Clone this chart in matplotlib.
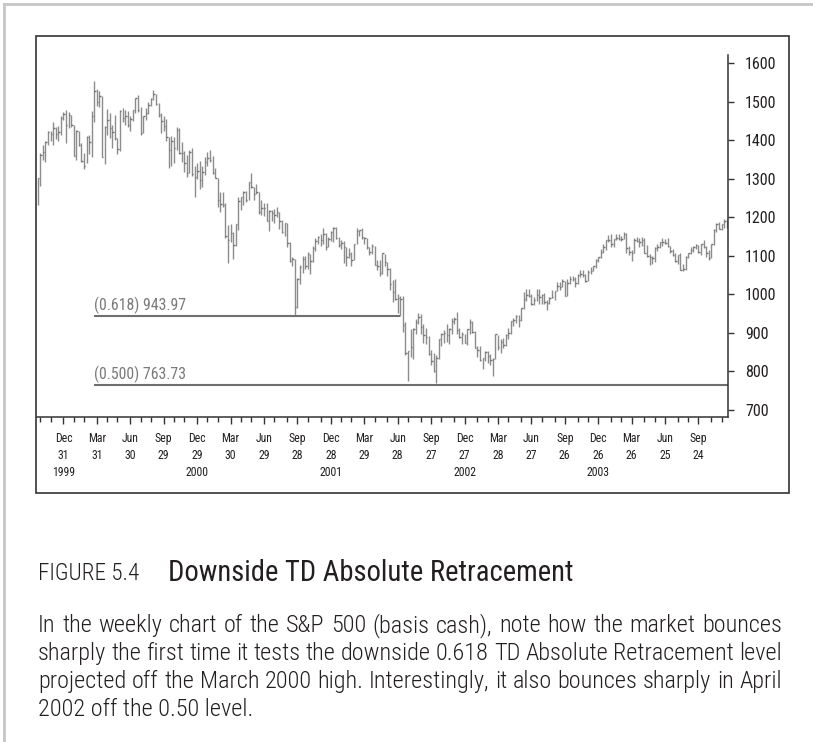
"""
Weekly S&P 500 bar chart with downside TD Absolute Retracement levels
"""
import pandas as pd
import matplotlib
matplotlib.use('Agg')
import matplotlib.pyplot as plt
import matplotlib.dates as mdates
from matplotlib import font_manager
from matplotlib.lines import Line2D
from matplotlib.patches import Rectangle

W, H = 813, 742

# weekly bars (Friday dates), first one is the week ending 22 Oct 1999
first_friday = '1999-10-22'

weekly_high = [
    1303, 1367, 1387, 1397, 1424, 1424, 1447, 1434, 1438, 1463, 1473,
    1478, 1473, 1465, 1441, 1428, 1424, 1394, 1367, 1410, 1414, 1477, 1553, 1534,
    1527, 1516, 1436, 1482, 1470, 1439, 1467, 1407, 1478, 1483, 1480, 1477, 1462,
    1480, 1510, 1517, 1486, 1463, 1484, 1499, 1511, 1530, 1521, 1498, 1471, 1463,
    1455, 1409, 1410, 1409, 1434, 1433, 1395, 1372, 1363, 1376, 1380, 1334, 1340,
    1347, 1333, 1357, 1370, 1376, 1358, 1327, 1302, 1266, 1267, 1237, 1180, 1183,
    1163, 1184, 1253, 1254, 1268, 1269, 1292, 1316, 1278, 1287, 1265, 1244, 1236,
    1237, 1219, 1219, 1222, 1226, 1215, 1192, 1185, 1185, 1135, 1096, 1092, 1042,
    1076, 1100, 1099, 1110, 1104, 1125, 1146, 1152, 1157, 1173, 1160, 1150, 1165,
    1176, 1174, 1148, 1140, 1139, 1123, 1121, 1110, 1132, 1173, 1168, 1173, 1150,
    1147, 1122, 1131, 1126, 1090, 1088, 1107, 1106, 1085, 1068, 1037, 1040, 1000,
    995, 997, 928, 853, 911, 914, 935, 951, 949, 924, 912, 891, 856,
    847, 843, 885, 900, 907, 924, 912, 938, 941, 954, 913, 903, 898,
    911, 935, 932, 906, 867, 865, 835, 852, 852, 846, 834, 896, 895,
    885, 887, 896, 912, 931, 939, 947, 946, 965, 1007, 1015, 1015, 1002,
    994, 1015, 1015, 1001, 1004, 985, 993, 1011, 1009, 1032, 1033, 1040, 1036,
    1040, 1049, 1049, 1046, 1054, 1063, 1063, 1052, 1064, 1071, 1075, 1091, 1096,
    1118, 1131, 1140, 1155, 1156, 1143, 1158, 1158, 1152, 1163, 1159, 1125, 1116,
    1147, 1149, 1147, 1150, 1146, 1127, 1105, 1099, 1123, 1130, 1137, 1147, 1145,
    1146, 1125, 1119, 1108, 1103, 1108, 1079, 1100, 1108, 1123, 1125, 1130, 1129,
    1132, 1142, 1125, 1115, 1131, 1170, 1185, 1188, 1183, 1197, 1197,
]
weekly_low = [
    1233, 1281, 1350, 1343, 1387, 1399, 1387, 1403, 1397, 1414, 1454,
    1392, 1431, 1434, 1360, 1350, 1386, 1345, 1325, 1340, 1365, 1356, 1448, 1490,
    1486, 1356, 1339, 1415, 1407, 1380, 1401, 1364, 1373, 1447, 1439, 1434, 1423,
    1449, 1471, 1473, 1413, 1419, 1452, 1469, 1488, 1505, 1491, 1461, 1420, 1423,
    1398, 1328, 1334, 1340, 1376, 1365, 1344, 1319, 1305, 1315, 1307, 1254, 1300,
    1274, 1280, 1310, 1333, 1345, 1312, 1301, 1228, 1215, 1227, 1147, 1081, 1137,
    1091, 1126, 1168, 1219, 1232, 1240, 1244, 1275, 1245, 1260, 1208, 1206, 1204,
    1190, 1165, 1191, 1185, 1200, 1169, 1160, 1152, 1124, 1085, 1073, 945, 965,
    1026, 1056, 1067, 1065, 1054, 1083, 1112, 1130, 1125, 1130, 1114, 1123, 1138,
    1136, 1145, 1124, 1117, 1081, 1074, 1094, 1074, 1089, 1130, 1151, 1145, 1132,
    1119, 1102, 1105, 1076, 1063, 1048, 1053, 1074, 1048, 1012, 981, 985, 952,
    943, 903, 842, 776, 837, 833, 896, 922, 898, 873, 871, 843, 817,
    798, 769, 831, 866, 873, 877, 872, 898, 922, 898, 888, 870, 873,
    869, 897, 900, 860, 837, 827, 806, 827, 822, 816, 789, 833, 856,
    847, 860, 865, 884, 898, 919, 926, 916, 931, 963, 984, 992, 973,
    972, 983, 975, 975, 974, 960, 974, 990, 986, 1008, 1011, 1018, 996,
    995, 1028, 1036, 1018, 1028, 1045, 1045, 1031, 1035, 1053, 1060, 1068, 1083,
    1094, 1108, 1115, 1136, 1122, 1124, 1141, 1141, 1138, 1143, 1107, 1103, 1087,
    1108, 1136, 1122, 1126, 1107, 1098, 1076, 1080, 1085, 1113, 1120, 1125, 1130,
    1124, 1107, 1100, 1083, 1078, 1063, 1060, 1064, 1094, 1104, 1111, 1119, 1108,
    1101, 1121, 1098, 1090, 1094, 1128, 1162, 1169, 1167, 1172, 1173,
]
weekly_close = [
    1302, 1363, 1370, 1396, 1422, 1417, 1433, 1417, 1421, 1458, 1469,
    1441, 1465, 1441, 1360, 1424, 1387, 1346, 1333, 1409, 1395, 1464, 1527, 1499,
    1516, 1357, 1434, 1452, 1433, 1421, 1407, 1378, 1477, 1457, 1464, 1441, 1455,
    1479, 1509, 1480, 1420, 1463, 1472, 1492, 1506, 1521, 1494, 1466, 1449, 1436,
    1409, 1374, 1397, 1380, 1427, 1366, 1368, 1342, 1315, 1370, 1312, 1306, 1320,
    1298, 1319, 1343, 1355, 1350, 1315, 1302, 1246, 1234, 1233, 1151, 1140, 1160,
    1128, 1184, 1243, 1253, 1267, 1246, 1292, 1278, 1261, 1265, 1214, 1225, 1224,
    1191, 1216, 1211, 1206, 1214, 1190, 1162, 1185, 1134, 1086, 1093, 966, 1041,
    1071, 1092, 1074, 1105, 1087, 1120, 1139, 1150, 1140, 1158, 1123, 1145, 1161,
    1173, 1146, 1128, 1133, 1122, 1096, 1104, 1090, 1132, 1164, 1166, 1149, 1147,
    1123, 1111, 1125, 1076, 1073, 1055, 1107, 1084, 1067, 1028, 1007, 989, 990,
    989, 921, 848, 853, 864, 909, 929, 941, 916, 894, 890, 845, 827,
    801, 835, 884, 898, 901, 895, 910, 931, 936, 907, 890, 896, 875,
    909, 928, 902, 861, 856, 830, 835, 851, 841, 829, 833, 896, 864,
    877, 868, 894, 899, 930, 933, 944, 933, 964, 988, 999, 996, 976,
    986, 998, 993, 999, 980, 978, 991, 993, 1008, 1021, 1019, 1036, 997,
    1030, 1039, 1039, 1029, 1051, 1053, 1050, 1035, 1058, 1062, 1074, 1089, 1096,
    1109, 1122, 1140, 1142, 1131, 1143, 1146, 1144, 1145, 1157, 1121, 1110, 1108,
    1142, 1139, 1135, 1141, 1107, 1099, 1096, 1094, 1121, 1123, 1137, 1135, 1134,
    1125, 1113, 1101, 1086, 1102, 1064, 1065, 1098, 1108, 1114, 1124, 1129, 1110,
    1132, 1122, 1108, 1095, 1130, 1166, 1184, 1170, 1183, 1191, 1188,
]

level_text = ['(0.618) 943.97', '(0.500) 763.73']
level_value = [943.97, 763.73]
level_from = ['2000-03-24', '2000-03-24']
level_to = ['2002-07-05', '2004-12-12']

x_start, x_end = '1999-10-20', '2004-12-12'

tick_dates = ['1999-12-31', '2000-03-31', '2000-06-30', '2000-09-29',
              '2000-12-29', '2001-03-30', '2001-06-29', '2001-09-28',
              '2001-12-28', '2002-03-29', '2002-06-28', '2002-09-27',
              '2002-12-27', '2003-03-28', '2003-06-27', '2003-09-26',
              '2003-12-26', '2004-03-26', '2004-06-25', '2004-09-24']
tick_labels = ['Dec\n31\n1999', 'Mar\n31', 'Jun\n30', 'Sep\n29',
               'Dec\n29\n2000', 'Mar\n30', 'Jun\n29', 'Sep\n28',
               'Dec\n28\n2001', 'Mar\n29', 'Jun\n28', 'Sep\n27',
               'Dec\n27\n2002', 'Mar\n28', 'Jun\n27', 'Sep\n26',
               'Dec\n26\n2003', 'Mar\n26', 'Jun\n25', 'Sep\n24']
price_ticks = [700, 800, 900, 1000, 1100, 1200, 1300, 1400, 1500, 1600]

caption_number = 'FIGURE 5.4'
caption_title = 'Downside TD Absolute Retracement'
caption_lines = [
    'In the weekly chart of the S&P 500 (basis cash), note how the market bounces',
    'sharply the first time it tests the downside 0.618 TD Absolute Retracement level',
    'projected off the March 2000 high. Interestingly, it also bounces sharply in April',
    '2002 off the 0.50 level.',
]

INK = '#231f20'


def fx(px):
    return px / W


def fy(py):
    return 1 - py / H


def pick_font():
    names = {f.name for f in font_manager.fontManager.ttflist}
    for cand in ('Liberation Sans Narrow', 'Arial Narrow', 'Roboto Condensed',
                 'Open Sans Condensed', 'Roboto', 'Liberation Sans'):
        if cand in names:
            return cand
    return 'DejaVu Sans'


def fit_size(fig, renderer, s, width, size=12, **kw):
    # font size that makes s exactly `width` pixels wide
    t = fig.text(0, 0, s, fontsize=size, **kw)
    w = t.get_window_extent(renderer).width
    t.remove()
    return size * width / w


def justified_line(fig, renderer, line, x0, x1, y, size, **kw):
    words = line.split()
    texts = [fig.text(0, fy(y), w, fontsize=size, color=INK, va='baseline', **kw)
             for w in words]
    widths = [t.get_window_extent(renderer).width for t in texts]
    gap = (x1 - x0 - sum(widths)) / (len(words) - 1)
    x = x0
    for t, w in zip(texts, widths):
        t.set_x(fx(x))
        x += w + gap


def main():
    plt.rcParams['font.family'] = [pick_font(), 'DejaVu Sans']

    fig = plt.figure(figsize=(W / 100, H / 100), dpi=100)
    renderer = fig.canvas.get_renderer()

    # page edges and chart frame
    fig.add_artist(Line2D([fx(4), 1], [fy(4), fy(4)], transform=fig.transFigure,
                          color='#c6c6c6', lw=2))
    fig.add_artist(Line2D([fx(4), fx(4)], [fy(4), 0], transform=fig.transFigure,
                          color='#c6c6c6', lw=2))
    fig.add_artist(Rectangle((fx(36), fy(493)), fx(789) - fx(36), fy(36) - fy(493),
                             transform=fig.transFigure, fill=False, ec='#333333', lw=1.2))

    ax = fig.add_axes([fx(37), fy(416.5), fx(727.5) - fx(37), fy(55) - fy(416.5)])
    dates = pd.date_range(first_friday, periods=len(weekly_close), freq='W-FRI')
    x = mdates.date2num(dates)

    ax.vlines(x, weekly_low, weekly_high, color='#8c8c8c', lw=1.0)
    ax.hlines(weekly_close, x, x + 4, color='#707070', lw=1.0)

    level_size = fit_size(fig, renderer, level_text[0], 88) * 1.05
    for txt, val, d0, d1 in zip(level_text, level_value, level_from, level_to):
        x0 = mdates.date2num(pd.Timestamp(d0))
        x1 = mdates.date2num(pd.Timestamp(d1))
        ax.hlines(val, x0, x1, color='#6f6f6f', lw=1.5)
        ax.annotate(txt, (x0, val), xytext=(0, 4.5), textcoords='offset points',
                    va='baseline', ha='left', fontsize=level_size, color='#7a7a7a')

    ax.set_xlim(mdates.date2num(pd.Timestamp(x_start)), mdates.date2num(pd.Timestamp(x_end)))
    ax.set_ylim(683, 1621.5)

    ax.set_xticks(mdates.date2num(pd.to_datetime(tick_dates)))
    ax.set_xticklabels(tick_labels, linespacing=1.4)
    fridays = pd.Series(pd.date_range(x_start, x_end, freq='W-FRI'))
    month_ends = fridays.groupby(fridays.dt.to_period('M')).max()
    minor = [d for d in month_ends if d.month not in (3, 6, 9, 12)]
    ax.set_xticks(mdates.date2num(pd.to_datetime(minor)), minor=True)
    x_size = fit_size(fig, renderer, '1999', 21.5) * 1.08
    ax.tick_params(axis='x', which='major', length=5, width=1, pad=6,
                   labelsize=x_size, colors='#333333', labelcolor=INK)
    ax.tick_params(axis='x', which='minor', length=3.5, width=1, colors='#333333')

    ax.yaxis.tick_right()
    ax.set_yticks(price_ticks)
    y_size = fit_size(fig, renderer, '1600', 29) * 1.08
    ax.tick_params(axis='y', length=4.3, width=1, pad=8.3, labelsize=y_size,
                   colors='#333333', labelcolor=INK)

    for side in ('left', 'top'):
        ax.spines[side].set_visible(False)
    for side in ('right', 'bottom'):
        ax.spines[side].set_color('#333333')
        ax.spines[side].set_linewidth(1.1)

    # caption
    fig.text(fx(38), fy(580), caption_number, color=INK, va='baseline', fontweight='light',
             fontsize=fit_size(fig, renderer, caption_number, 101, fontweight='light'))
    fig.text(fx(168), fy(581), caption_title, color=INK, va='baseline',
             fontsize=fit_size(fig, renderer, caption_title, 404))
    body_size = fit_size(fig, renderer, caption_lines[2], 742, fontweight='light')
    for i, line in enumerate(caption_lines):
        y = 632 + 28 * i
        if i < len(caption_lines) - 1:
            justified_line(fig, renderer, line, 38, 782, y, body_size, fontweight='light')
        else:
            fig.text(fx(38), fy(y), line, fontsize=body_size, color=INK, va='baseline',
                     fontweight='light')

    fig.savefig('out.png', dpi=100)
    plt.close(fig)


if __name__ == '__main__':
    main()
